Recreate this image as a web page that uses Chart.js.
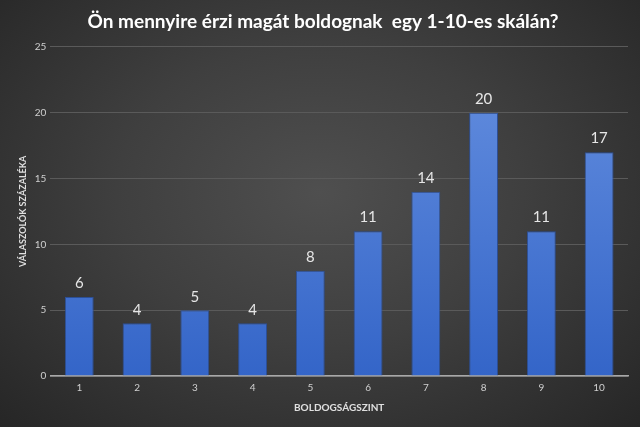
<!DOCTYPE html>
<html><head><meta charset="utf-8">
<script src="https://cdn.jsdelivr.net/npm/chart.js@4/dist/chart.umd.min.js"></script>
<style>
html,body{margin:0;padding:0;width:640px;height:427px;overflow:hidden;}
body{background:radial-gradient(ellipse at 50% 45%, #4f4f4f 0%, #3f3f3f 45%, #262626 100%);}
#wrap{width:640px;height:427px;position:relative;}
</style></head><body>
<div id="wrap"><canvas id="c" width="640" height="427"></canvas></div>
<script>
const categories = ['1','2','3','4','5','6','7','8','9','10'];
const values = [6,4,5,4,8,11,14,20,11,17];
const yTicks = [0,5,10,15,20,25];
const titleText = 'Ön mennyire érzi magát boldognak  egy 1-10-es skálán?';
const xTitle = 'BOLDOGSÁGSZINT';
const yTitle = 'VÁLASZOLÓK SZÁZALÉKA';

const labelPlugin = {
  id:'labels',
  afterDatasetsDraw(chart){
    const ctx = chart.ctx;
    const meta = chart.getDatasetMeta(0);
    ctx.save();
    ctx.font = '15px Lato';
    ctx.fillStyle = '#e6e6e6';
    ctx.textAlign = 'center';
    ctx.textBaseline = 'bottom';
    meta.data.forEach((bar,i)=>{
      ctx.fillText(String(values[i]), bar.x, bar.y - 6);
    });
    ctx.restore();
  }
};

new Chart(document.getElementById('c'), {
  type:'bar',
  data:{labels:categories, datasets:[{
    data:values,
    backgroundColor(ctx){
      const ca = ctx.chart.chartArea;
      if(!ca) return '#4472c4';
      const g = ctx.chart.ctx.createLinearGradient(0, ca.top, 0, ca.bottom);
      g.addColorStop(0,'#6690e0');
      g.addColorStop(1,'#3465c8');
      return g;
    },
    borderColor:'#2c4f96',
    borderWidth:1,
    barPercentage:0.5,
    categoryPercentage:1.0
  }]},
  options:{
    responsive:false,
    animation:false,
    layout:{padding:{left:18,right:12,top:0,bottom:9}},
    plugins:{
      legend:{display:false},
      tooltip:{enabled:false},
      title:{display:true,text:titleText,color:'#ffffff',
        font:{family:'Lato',size:19,weight:'bold'},padding:{top:10,bottom:14}}
    },
    scales:{
      x:{
        grid:{display:false,drawTicks:false},
        border:{color:'#a8a8a8',width:1.5},
        ticks:{color:'#d0d0d0',font:{family:'Lato',size:10},padding:6},
        title:{display:true,text:xTitle,color:'#e0e0e0',font:{family:'Lato',size:10,weight:'bold'},padding:{top:2}}
      },
      y:{
        min:0,max:25,
        afterBuildTicks(axis){axis.ticks = yTicks.map(v=>({value:v}));},
        grid:{color:'#5a5a5a',drawTicks:false,lineWidth:1},
        border:{display:false},
        ticks:{color:'#d0d0d0',font:{family:'Lato',size:10},padding:4},
        title:{display:true,text:yTitle,color:'#e0e0e0',font:{family:'Lato',size:9,weight:'bold'},padding:{top:0,bottom:2}}
      }
    }
  },
  plugins:[labelPlugin]
});
</script></body></html>
